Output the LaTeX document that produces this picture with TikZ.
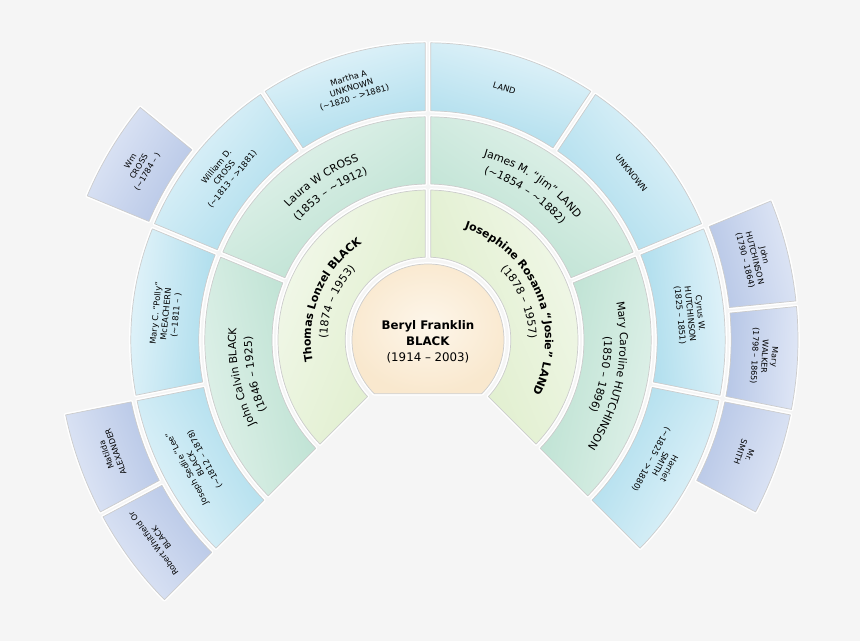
\documentclass[tikz,border=0pt]{standalone}
\usepackage{fontspec}
\setmainfont{DejaVu Sans}
\usetikzlibrary{decorations.text}

\definecolor{bgcol}{HTML}{F5F5F5}
\definecolor{rootin}{HTML}{FDF6EA}
\definecolor{rootout}{HTML}{F9E8CE}
\definecolor{gAin}{HTML}{DDEDC9}
\definecolor{gAout}{HTML}{F2F8EA}
\definecolor{gBin}{HTML}{B9E0D0}
\definecolor{gBout}{HTML}{E4F3EC}
\definecolor{gCin}{HTML}{ABDCEC}
\definecolor{gCout}{HTML}{E4F4FA}
\definecolor{gDin}{HTML}{B6C6E6}
\definecolor{gDout}{HTML}{E0E7F6}

% half of the white gap between two neighbouring wedges (cm)
\newcommand{\halfgap}{0.07}
% one wedge of the fan: inner r, outer r, from angle, to angle, style
\newcommand{\fanseg}[5]{%
  \pgfmathsetmacro\sai{#3+\halfgap/#1*57.2958}%
  \pgfmathsetmacro\sao{#3+\halfgap/#2*57.2958}%
  \pgfmathsetmacro\eai{#4-\halfgap/#1*57.2958}%
  \pgfmathsetmacro\eao{#4-\halfgap/#2*57.2958}%
  \pgfmathsetmacro\smid{(#3+#4)/2-90}%
  \path[seg,#5,shading angle=\smid] (\sai:#1) -- (\sao:#2)
    arc[start angle=\sao, end angle=\eao, radius=#2] -- (\eai:#1)
    arc[start angle=\eai, end angle=\sai, radius=#1] -- cycle;%
}
% a line of text bent along a clockwise arc: radius, from angle, to angle, text
\newcommand{\arctext}[4]{%
  \path[decorate, decoration={text along path, text align=center, text={#4}}]
    (#2:#1) arc[start angle=#2, end angle=#3, radius=#1];%
}
\newcommand{\fA}{\fontsize{7.8}{9}\selectfont}
\newcommand{\fB}{\fontsize{7.7}{9}\selectfont}

\begin{document}
\begin{tikzpicture}[line cap=round, line join=round,
  seg/.style={preaction={draw=white, line width=2.6pt}, draw=black!20, line width=0.5pt},
  genA/.style={top color=gAout, bottom color=gAin},
  genB/.style={top color=gBout, bottom color=gBin},
  genC/.style={top color=gCout, bottom color=gCin},
  genD/.style={top color=gDout, bottom color=gDin},
  lbl/.style={align=center, inner sep=1pt},
  txtC/.style={font=\fontsize{5.9}{7.2}\selectfont},
  txtD/.style={font=\fontsize{5.7}{7}\selectfont}]

\fill[bgcol] (-10.7,-7.525) rectangle (10.8,8.5);
\useasboundingbox (-10.7,-7.525) rectangle (10.8,8.5);

% the root person
\path[seg, inner color=rootin, outer color=rootout]
  (225:1.9) arc[start angle=225, end angle=-45, radius=1.9] -- cycle;
\node[lbl, font=\fontsize{8.4}{11.4}\selectfont] (beryl) at (0,-0.05)
  {\textbf{Beryl Franklin}\\\textbf{BLACK}\\(1914 -- 2003)};

% parents
\fanseg{2.07}{3.75}{90}{225}{genA}
\fanseg{2.07}{3.75}{-45}{90}{genA}
\arctext{2.93}{225}{90}{|\fA\bfseries|Thomas Lonzel BLACK}
\arctext{2.52}{225}{90}{|\fA|(1874 – 1953)}
\arctext{2.93}{90}{-45}{|\fA\bfseries|Josephine Rosanna “Josie” LAND}
\arctext{2.52}{90}{-45}{|\fA|(1878 – 1957)}

% grandparents
\fanseg{3.9}{5.58}{157.5}{225}{genB}
\fanseg{3.9}{5.58}{90}{157.5}{genB}
\fanseg{3.9}{5.58}{22.5}{90}{genB}
\fanseg{3.9}{5.58}{-45}{22.5}{genB}
\arctext{4.8}{225}{157.5}{|\fB|John Calvin BLACK}
\arctext{4.4}{225}{157.5}{|\fB|(1846 – 1925)}
\arctext{4.8}{157.5}{90}{|\fB|Laura W CROSS}
\arctext{4.4}{157.5}{90}{|\fB|(1853 – {\textasciitilde}1912)}
\arctext{4.8}{90}{22.5}{|\fB|James M. “Jim” LAND}
\arctext{4.4}{90}{22.5}{|\fB|({\textasciitilde}1854 – {\textasciitilde}1882)}
\arctext{4.8}{22.5}{-45}{|\fB|Mary Caroline HUTCHINSON}
\arctext{4.4}{22.5}{-45}{|\fB|(1850 – 1896)}

% great-grandparents
\foreach \a in {191.25, 157.5, 123.75, 90, 56.25, 22.5, -11.25, -45}
  \fanseg{5.73}{7.43}{\a}{\a+33.75}{genC};
\node[lbl, txtC, rotate=118.125] (joseph) at (208.125:6.58) {Joseph Sedlie ``Lee''\\BLACK\\(\textasciitilde1812 -- 1878)};
\node[lbl, txtC, rotate=84.375] (polly) at (174.375:6.58) {Mary C. ``Polly''\\McEACHERN\\(\textasciitilde1811 -- )};
\node[lbl, txtC, rotate=50.625] (william) at (140.625:6.58) {William D.\\CROSS\\(\textasciitilde1813 -- >1881)};
\node[lbl, txtC, rotate=16.875] (martha) at (106.875:6.58) {Martha A\\UNKNOWN\\(\textasciitilde1820 -- >1881)};
\node[lbl, txtC, rotate=-16.875] (land) at (73.125:6.58) {LAND};
\node[lbl, txtC, rotate=-50.625] (unknown) at (39.375:6.58) {UNKNOWN};
\node[lbl, txtC, rotate=-84.375] (cyrus) at (5.625:6.58) {Cyrus W.\\HUTCHINSON\\(1825 -- 1851)};
\node[lbl, txtC, rotate=-118.125] (harriet) at (-28.125:6.58) {Harriet\\SMITH\\(\textasciitilde1825 -- >1880)};

% great-great-grandparents (only the known ones)
\fanseg{7.58}{9.25}{208.125}{225}{genD}
\fanseg{7.58}{9.25}{191.25}{208.125}{genD}
\fanseg{7.58}{9.25}{140.625}{157.5}{genD}
\fanseg{7.58}{9.25}{5.625}{22.5}{genD}
\fanseg{7.58}{9.25}{-11.25}{5.625}{genD}
\fanseg{7.58}{9.25}{-28.125}{-11.25}{genD}
\node[lbl, txtD, rotate=126.5625] (robert) at (216.5625:8.42) {Robert Whitfield Or\\BLACK};
\node[lbl, txtD, rotate=109.6875] (matilda) at (199.6875:8.42) {Matilda\\ALEXANDER};
\node[lbl, txtD, rotate=59.0625] (wm) at (149.0625:8.42) {Wm\\CROSS\\(\textasciitilde1784 -- )};
\node[lbl, txtD, rotate=-75.9375] (johnh) at (14.0625:8.42) {John\\HUTCHINSON\\(1790 -- 1864)};
\node[lbl, txtD, rotate=-92.8125] (maryw) at (-2.8125:8.42) {Mary\\WALKER\\(1798 -- 1865)};
\node[lbl, txtD, rotate=-109.6875] (mrsmith) at (-19.6875:8.42) {Mr.\\SMITH};

\end{tikzpicture}
\end{document}
